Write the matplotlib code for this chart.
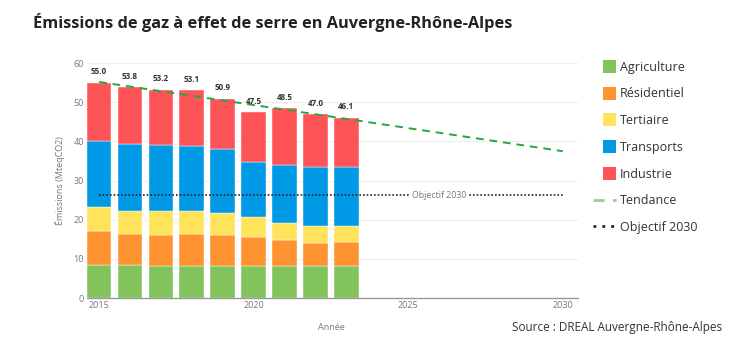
import matplotlib
matplotlib.use("Agg")
from matplotlib import pyplot as plt
from matplotlib.patches import Patch, Rectangle
from matplotlib.lines import Line2D
from matplotlib.legend_handler import HandlerPatch
import numpy as np

plt.rcParams.update({
    "font.family": ["Open Sans", "DejaVu Sans"],
    "font.size": 8,
})

years = [2015, 2016, 2017, 2018, 2019, 2020, 2021, 2022, 2023]
agriculture = [8.5, 8.5, 8.3, 8.2, 8.1, 8.1, 8.1, 8.1, 8.1]
residentiel = [8.7, 7.9, 7.9, 8.2, 7.9, 7.6, 6.7, 6.0, 6.1]
tertiaire = [6.1, 5.9, 6.0, 5.9, 5.6, 5.1, 4.3, 4.3, 4.2]
transports = [16.7, 17.1, 16.9, 16.6, 16.4, 13.9, 14.8, 15.2, 15.0]
industrie = [15.0, 14.4, 14.1, 14.2, 12.9, 12.8, 14.6, 13.4, 12.7]
totals = [55.0, 53.8, 53.2, 53.1, 50.9, 47.5, 48.5, 47.0, 46.1]

trend_years = [2015, 2030]
trend_values = [55.2, 37.5]
objectif_2030 = 26.3

sectors = ["Agriculture", "Résidentiel", "Tertiaire", "Transports", "Industrie"]
series = [agriculture, residentiel, tertiaire, transports, industrie]
colors = ["#82c35b", "#ff9231", "#ffe35b", "#0099e6", "#ff5457"]


class SquareHandler(HandlerPatch):
    # square swatch pushed to the right end of the handle box
    def create_artists(self, legend, orig_handle, xdescent, ydescent,
                       width, height, fontsize, trans):
        side = height * 1.25
        p = Rectangle((width - side - xdescent, -ydescent + (height - side) / 2),
                      side, side, facecolor=orig_handle.get_facecolor(),
                      edgecolor="none", transform=trans)
        return [p]


fig = plt.figure(figsize=(7.54, 3.45), dpi=100)
ax = fig.add_axes([0.115, 0.136, 0.652, 0.681])

bottom = np.zeros(len(years))
for name, vals, c in zip(sectors, series, colors):
    ax.bar(years, vals, width=0.8, bottom=bottom, color=c, edgecolor="white",
           linewidth=0.3, zorder=2)
    bottom += np.array(vals)

for x, t in zip(years, totals):
    ax.text(x, t + 2.8, f"{t:.1f}", ha="center", va="center", fontsize=5.8,
            fontweight="bold", color="#333333", zorder=4)

ax.plot(trend_years, trend_values, ls=(0, (4, 3)), color="#27a543", lw=1.4, zorder=3)
ax.plot([2015, 2030], [objectif_2030, objectif_2030], ls=(0, (1, 1.2)),
        color="#222222", lw=1.2, zorder=3)
ax.text(2026, objectif_2030, "Objectif 2030", ha="center", va="center",
        fontsize=6.3, color="#777777", zorder=4,
        bbox=dict(facecolor="white", edgecolor="none", pad=1.5))

ax.set_xlim(2014.6, 2030.5)
ax.set_ylim(0, 60)
ax.set_xticks([2015, 2020, 2025, 2030])
ax.set_yticks(range(0, 61, 10))
ax.grid(axis="y", color="#eeeeee", lw=0.8, zorder=0)
ax.tick_params(length=0, labelsize=6.5, colors="#777777", pad=2)
for s in ["top", "right", "left"]:
    ax.spines[s].set_visible(False)
ax.spines["bottom"].set_color("#999999")
ax.spines["bottom"].set_linewidth(1.0)

ax.set_ylabel("Émissions (MteqCO2)", fontsize=6.5, color="#777777", labelpad=6)
fig.text(0.44, 0.052, "Année", fontsize=6.5, color="#777777", ha="center", va="center")

fig.text(0.044, 0.935, "Émissions de gaz à effet de serre en Auvergne-Rhône-Alpes",
         fontsize=11.8, fontweight="bold", color="#222222", va="center")
fig.text(0.958, 0.052, "Source : DREAL Auvergne-Rhône-Alpes", fontsize=8.5,
         color="#333333", ha="right", va="center")

handles = [Patch(facecolor=c, edgecolor="none") for c in colors]
handles.append(Line2D([0], [0], ls=(0, (4, 3)), color="#8fd19b", lw=2))
handles.append(Line2D([0], [0], ls=(0, (1, 2.2)), color="#222222", lw=2))
labels = sectors + ["Tendance", "Objectif 2030"]
fig.legend(handles, labels, loc="upper left", bbox_to_anchor=(0.786, 0.824),
           frameon=False, fontsize=9, labelcolor="#333333", handlelength=1.9,
           handleheight=0.9, handletextpad=0.25, labelspacing=1.1, borderaxespad=0,
           borderpad=0, handler_map={Patch: SquareHandler()})

fig.savefig("out.png", dpi=100)
